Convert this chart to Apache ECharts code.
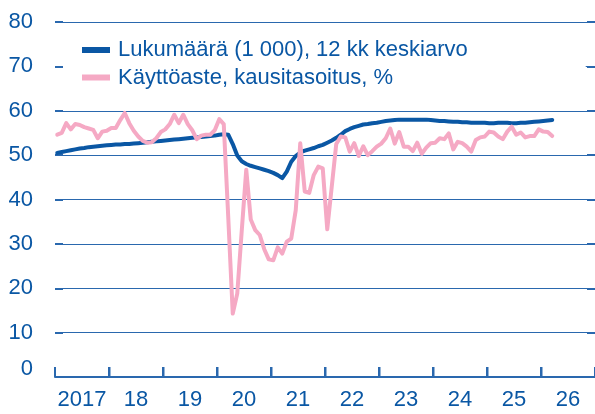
<!DOCTYPE html>
<html>
<head>
<meta charset="utf-8">
<title>Lukumäärä ja käyttöaste</title>
<script src="https://cdn.jsdelivr.net/npm/echarts@6.0.0/dist/echarts.min.js"></script>
<style>
  html, body { margin: 0; padding: 0; background: #ffffff; }
  #chart { width: 595px; height: 414px; }
</style>
</head>
<body>
<div id="chart"></div>
<script>
var YEAR_LABELS = ['2017', '18', '19', '20', '21', '22', '23', '24', '25', '26'];
var Y_TICKS = [0, 10, 20, 30, 40, 50, 60, 70, 80];
var SERIES_NAMES = ['Lukumäärä (1 000), 12 kk keskiarvo', 'Käyttöaste, kausitasoitus, %'];

// monthly values, 2017-01 .. 2026-03
var countAvg = [
  50.5, 50.7, 50.9, 51.1, 51.3, 51.5, 51.6, 51.8, 51.9, 52.0, 52.1, 52.2,
  52.3, 52.4, 52.4, 52.5, 52.5, 52.6, 52.7, 52.8, 52.9, 53.0, 53.1, 53.2,
  53.3, 53.4, 53.5, 53.6, 53.7, 53.8, 53.9, 54.0, 54.1, 54.2, 54.3, 54.4,
  54.6, 54.7, 54.6, 52.5, 49.9, 48.6, 48.0, 47.6, 47.3, 47.0, 46.7, 46.4,
  46.0, 45.5, 44.8, 46.3, 48.5, 49.8, 50.6, 51.0, 51.3, 51.6, 52.0, 52.3,
  52.8, 53.3, 53.9, 54.6, 55.4, 55.9, 56.3, 56.6, 56.9, 57.0, 57.2, 57.3,
  57.5, 57.7, 57.8, 57.9, 58.0, 58.0, 58.0, 58.0, 58.0, 58.0, 58.0, 57.9,
  57.8, 57.7, 57.7, 57.6, 57.5, 57.5, 57.4, 57.4, 57.3, 57.3, 57.3, 57.3,
  57.2, 57.2, 57.3, 57.3, 57.3, 57.2, 57.2, 57.3, 57.3, 57.4, 57.5, 57.6,
  57.7, 57.8, 57.9
];

var occupancy = [
  54.6, 55.0, 57.2, 55.8, 57.0, 56.8, 56.3, 56.0, 55.7, 53.8, 55.3, 55.5,
  56.1, 56.1, 57.9, 59.5, 57.2, 55.5, 54.2, 53.2, 52.8, 52.9, 53.8, 55.2,
  55.8, 57.0, 59.1, 57.2, 59.1, 57.0, 55.6, 53.6, 54.4, 54.6, 54.6, 55.6,
  58.1, 57.0, 36.0, 14.3, 18.8, 33.0, 46.7, 35.5, 33.1, 32.0, 28.8, 26.5,
  26.3, 29.2, 27.8, 30.5, 31.2, 37.6, 52.7, 41.8, 41.5, 45.5, 47.4, 47.0,
  33.3, 42.9, 52.5, 54.2, 54.0, 50.8, 52.7, 49.8, 52.0, 50.0, 50.9, 51.9,
  52.6, 53.8, 56.0, 52.6, 55.2, 51.9, 51.9, 50.9, 52.8, 50.3, 51.7, 52.7,
  52.8, 53.8, 53.6, 54.9, 51.3, 53.0, 52.7, 51.9, 50.8, 53.4, 54.0, 54.2,
  55.3, 55.1, 54.2, 53.6, 55.3, 56.4, 54.6, 55.1, 54.0, 54.3, 54.3, 55.8,
  55.3, 55.2, 54.3
];

(function () {
  var BLUE = '#0a57a4';
  var GRID = '#2a68ae';
  var PINK = '#f5a9c4';
  var FONT = '"Liberation Sans", Arial, sans-serif';

  function monthCategories() {
    var list = [];
    YEAR_LABELS.forEach(function (label, i) {
      for (var m = 1; m <= 12; m++) list.push((2017 + i) + '-' + m);
    });
    return list;
  }

  function yearStarts() {
    // first month of every year except the first one
    var list = [];
    for (var i = 1; i < YEAR_LABELS.length; i++) list.push([i * 12, 0]);
    return list;
  }

  function renderYearTick(params, api) {
    var base = api.coord([api.value(0), 0]);
    var band = api.size([1, 0])[0];
    var x = Math.round(base[0] - band / 2) + 0.5;
    return {
      type: 'line',
      shape: { x1: x, y1: base[1], x2: x, y2: base[1] - 10 },
      style: { stroke: GRID, lineWidth: 2 }
    };
  }

  function render() {
    var chart = echarts.init(document.getElementById('chart'), null, { renderer: 'canvas' });
    var yBase = {
      type: 'value',
      min: Y_TICKS[0],
      max: Y_TICKS[Y_TICKS.length - 1],
      interval: 10,
      axisLine: { show: false },
      axisTick: { show: true, inside: true, length: 8, lineStyle: { color: GRID, width: 2 } }
    };

    chart.setOption({
      animation: false,
      textStyle: { fontFamily: FONT },
      grid: { left: 55, right: 0, top: 22, bottom: 37 },
      legend: {
        orient: 'vertical',
        left: 63,
        top: 34,
        // white box hides the 70 gridline behind the legend
        backgroundColor: '#ffffff',
        padding: [5, 118, 5, 19],
        itemWidth: 28,
        itemHeight: 6,
        itemGap: 5.5,
        selectedMode: false,
        textStyle: { color: BLUE, fontSize: 22, fontFamily: FONT, padding: [0, 0, 0, 3] },
        data: [
          { name: SERIES_NAMES[0], icon: 'rect' },
          { name: SERIES_NAMES[1], icon: 'rect' }
        ]
      },
      xAxis: [
        {
          type: 'category',
          data: YEAR_LABELS,
          boundaryGap: true,
          axisLine: { show: true, onZero: false, lineStyle: { color: GRID, width: 2 } },
          axisTick: {
            show: true,
            inside: true,
            length: 10,
            interval: 0,
            lineStyle: { color: GRID, width: 2 }
          },
          axisLabel: { interval: 0, color: BLUE, fontSize: 22, margin: 12, fontFamily: FONT }
        },
        {
          // month axis carrying the data
          type: 'category',
          data: monthCategories(),
          boundaryGap: true,
          show: false
        }
      ],
      yAxis: [
        Object.assign({}, yBase, {
          position: 'left',
          axisLabel: {
            color: BLUE,
            fontSize: 22,
            margin: 22,
            fontFamily: FONT,
            formatter: function (v) { return v === 0 ? '{z|0}' : String(v); },
            rich: { z: { color: BLUE, fontSize: 22, fontFamily: FONT, padding: [0, 0, 16, 0] } }
          },
          splitLine: { show: true, lineStyle: { color: GRID, width: 1 } }
        }),
        Object.assign({}, yBase, {
          position: 'right',
          axisLabel: { show: false },
          splitLine: { show: false }
        })
      ],
      series: [
        {
          name: SERIES_NAMES[0],
          type: 'line',
          xAxisIndex: 1,
          yAxisIndex: 0,
          showSymbol: false,
          lineStyle: { color: BLUE, width: 4, join: 'round', cap: 'round' },
          itemStyle: { color: BLUE },
          data: countAvg
        },
        {
          name: SERIES_NAMES[1],
          type: 'line',
          xAxisIndex: 1,
          yAxisIndex: 0,
          showSymbol: false,
          lineStyle: { color: PINK, width: 4, join: 'round', cap: 'round' },
          itemStyle: { color: PINK },
          data: occupancy
        },
        {
          // year boundary ticks on the x axis
          name: 'yearTicks',
          type: 'custom',
          xAxisIndex: 1,
          yAxisIndex: 0,
          silent: true,
          clip: false,
          z: 10,
          renderItem: renderYearTick,
          data: yearStarts()
        }
      ]
    });
  }

  if (document.readyState === 'loading') {
    document.addEventListener('DOMContentLoaded', render, { once: true });
  } else {
    render();
  }
})();
</script>
</body>
</html>
